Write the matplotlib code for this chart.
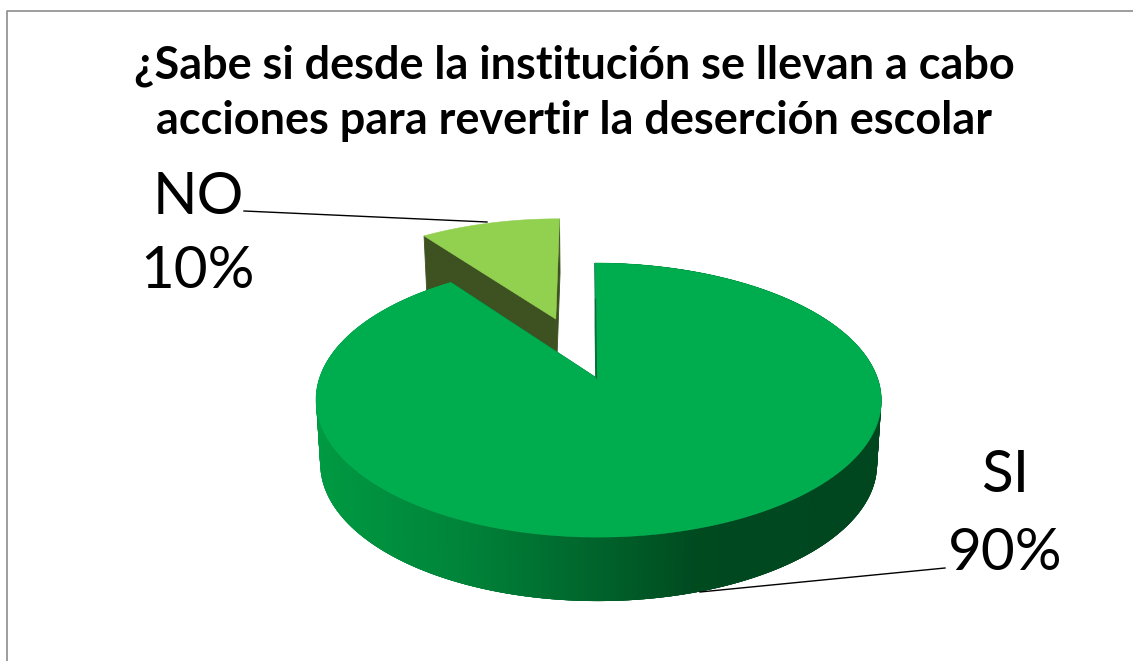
import numpy as np
import matplotlib
matplotlib.use("Agg")
import matplotlib.pyplot as plt
from matplotlib.patches import Polygon
from matplotlib.colors import LinearSegmentedColormap

title_lines = ["¿Sabe si desde la institución se llevan a cabo",
               "acciones para revertir la deserción escolar"]
categories = ["SI", "NO"]
values = [90, 10]
slice_colors = ["#00AD4E", "#92D050"]
cut_colors = ["#0A6B3A", "#3D5220"]

W, H = 1133, 661
fig = plt.figure(figsize=(W / 100, H / 100), dpi=100)
ax = fig.add_axes([0, 0, 1, 1])
ax.set_xlim(0, W)
ax.set_ylim(H, 0)
ax.axis("off")

# perspective view of the pie plane
APEX = (596.5, 378.0)
A, B, C = 279.0, 133.5, 0.161
EXPLODE = {"SI": 0.0, "NO": 0.5}
DEPTH = {"SI": 64.0, "NO": 54.0}
SHRINK = 0.985


def project(u, v):
    d = 1 + C * v
    return APEX[0] + A * u / d + 2.0 * np.square(u) - 1.5 * v, APEX[1] - B * v / d


def lower(x, y, depth):
    return APEX[0] + (x - APEX[0]) * SHRINK, y + depth


def rim(a0, a1, explode, mid, n=400):
    t = np.radians(np.linspace(a0, a1, n))
    m = np.radians(mid)
    return project(np.sin(t) + explode * np.sin(m), np.cos(t) + explode * np.cos(m))


shade = LinearSegmentedColormap.from_list(
    "side", [(0.0, "#009A42"), (0.25, "#00853A"), (0.45, "#006B2E"),
             (0.68, "#004A20"), (1.0, "#00461F")])

shares = 360.0 * np.array(values) / sum(values)
starts = np.concatenate([[0.0], np.cumsum(shares)[:-1]])

# the exploded small slice is behind the big one
order = [1, 0]
for i in order:
    cat = categories[i]
    a0, a1 = starts[i], starts[i] + shares[i]
    mid = (a0 + a1) / 2
    ex = EXPLODE[cat]
    depth = DEPTH[cat]
    m = np.radians(mid)
    cx, cy = project(ex * np.sin(m), ex * np.cos(m))
    xr, yr = rim(a0, a1, ex, mid)
    bx, by = lower(xr, yr, depth)
    bcx, bcy = lower(cx, cy, depth)
    # side wall along the rim: overlapping strips so no background shows at the seams
    if cat == "SI":
        for k in range(len(xr) - 4):
            pts = [(xr[k], yr[k]), (xr[k + 4], yr[k + 4]),
                   (bx[k + 4], by[k + 4]), (bx[k], by[k])]
            col = shade(np.clip((xr[k] - 315) / 566, 0, 1))
            ax.add_patch(Polygon(pts, closed=True, fc=col, ec="none", lw=0, zorder=2))
    # cut faces
    for idx in (0, -1):
        face = [(cx, cy), (xr[idx], yr[idx]), (bx[idx], by[idx]), (bcx, bcy)]
        ax.add_patch(Polygon(face, closed=True, fc=cut_colors[i], ec=cut_colors[i],
                             lw=0.6, zorder=1))
    # top face
    top = np.column_stack([np.r_[cx, xr], np.r_[cy, yr]])
    z = 3 if cat == "SI" else 1.5
    ax.add_patch(Polygon(top, closed=True, fc=slice_colors[i], ec=slice_colors[i],
                         lw=0.4, zorder=z))

# thin dark edge along the gap of the big slice
ex0, ey0 = project(np.array([0.0, 0.0]), np.array([0.0, 0.65]))
ax.plot(ex0, ey0, color=cut_colors[0], lw=0.9, zorder=4)

# chart frame
ax.plot([7, 7, W], [H, 11, 11], color="#8C8C8C", lw=1.2, zorder=0)

# title
for line, y in zip(title_lines, [66, 121]):
    ax.text(574, y, line, ha="center", va="center", fontsize=32.4, fontweight="bold",
            family="Lato", color="black")

# data labels and leaders
label_pos = {"SI": (1005, 476, 553), "NO": (198, 197, 272)}
leaders = {"SI": ([945, 700], [568, 592]), "NO": ([244, 487], [211, 222])}
for cat, val in zip(categories, values):
    x, y1, y2 = label_pos[cat]
    ax.text(x, y1, cat, ha="center", va="center", fontsize=42, family="Lato", color="black")
    ax.text(x, y2, f"{val}%", ha="center", va="center", fontsize=42, family="Lato", color="black")
    ax.plot(*leaders[cat], color="black", lw=1.0, zorder=5)

fig.savefig("out.png", dpi=100, facecolor="white")
